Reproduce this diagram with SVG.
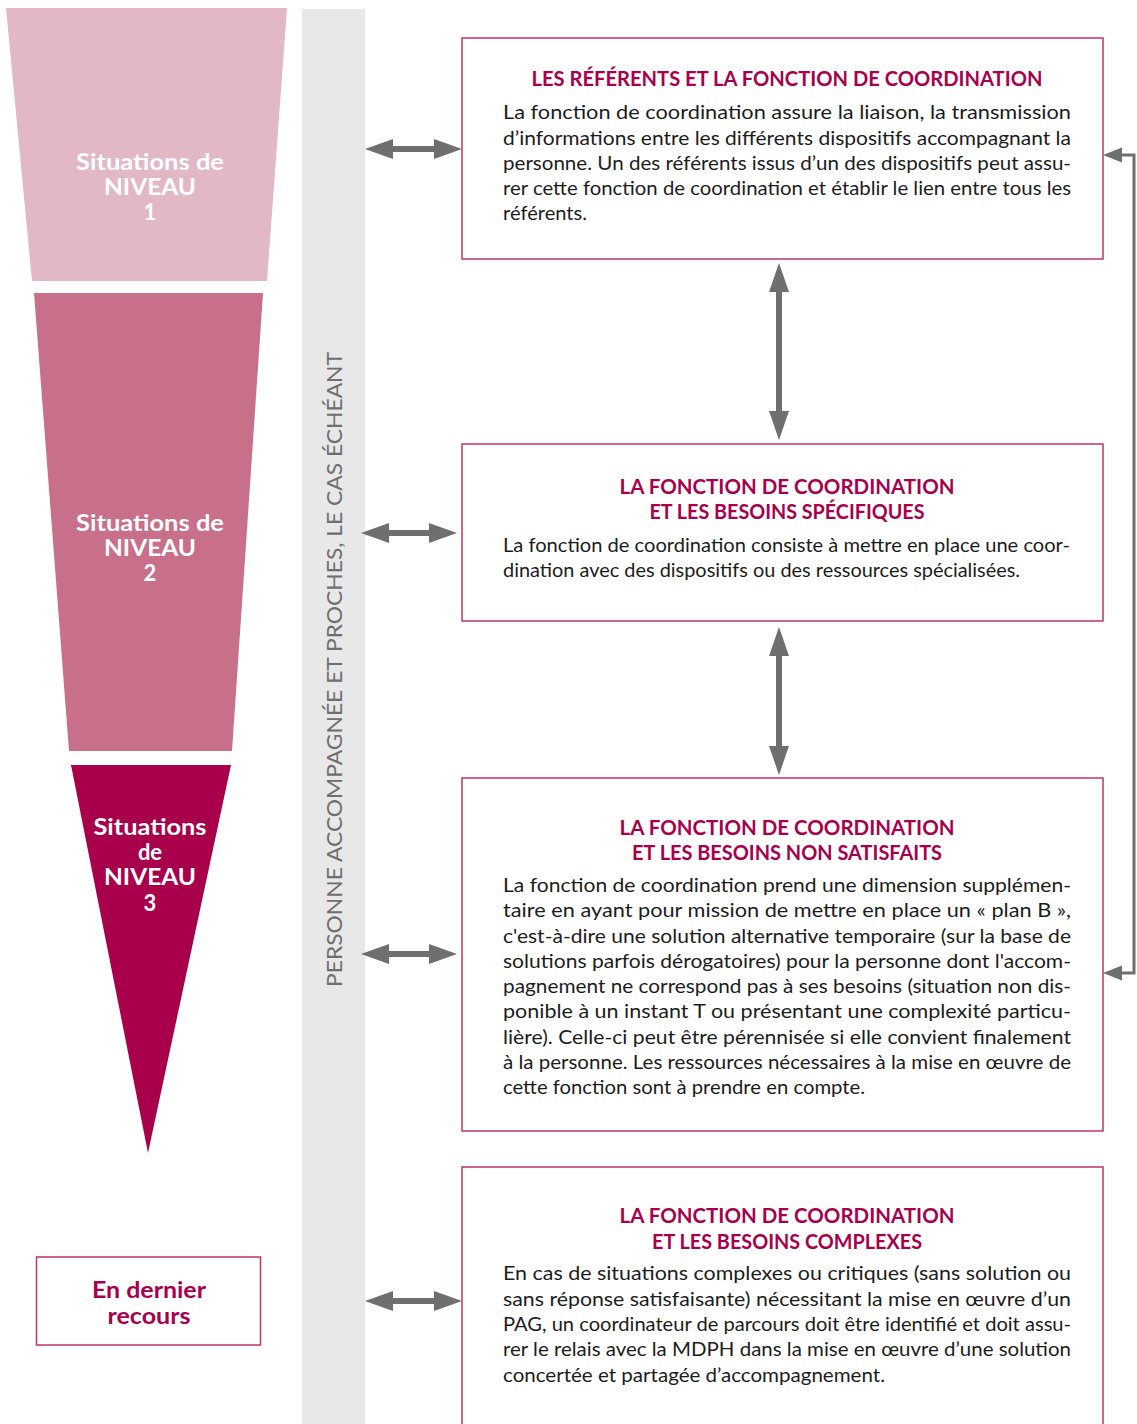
<svg xmlns="http://www.w3.org/2000/svg" width="1137" height="1424" viewBox="0 0 1137 1424">
<style>
.body{font-family:Lato,"Open Sans","Liberation Sans",sans-serif;font-size:20px;fill:#1c1c1c}
.title{font-family:Lato,"Open Sans","Liberation Sans",sans-serif;font-size:20px;font-weight:700;fill:#a8004c;text-anchor:middle}
.lvl{font-family:Lato,"Open Sans","Liberation Sans",sans-serif;font-size:22px;font-weight:700;fill:#ffffff;text-anchor:middle}
.box{fill:#ffffff;stroke:#c2306e;stroke-width:1.5}
.arr{fill:#6f6f6f}
.side{font-family:Lato,"Open Sans","Liberation Sans",sans-serif;font-size:21px;fill:#6e6e6e;text-anchor:middle}
</style>

<g id="band">
<rect x="302" y="9" width="63" height="1415" fill="#e8e8e8"/>
<text class="side" transform="translate(342,669.5) rotate(-90)" textLength="635" lengthAdjust="spacingAndGlyphs">PERSONNE ACCOMPAGNÉE ET PROCHES, LE CAS ÉCHÉANT</text>
</g>

<g id="niveau1">
<polygon points="6,8 287,8 267,281 32,281" fill="#e2b8c5"/>
<text class="lvl" x="150" y="170" textLength="148" lengthAdjust="spacingAndGlyphs">Situations de</text>
<text class="lvl" x="150" y="195" textLength="92" lengthAdjust="spacingAndGlyphs">NIVEAU</text>
<text class="lvl" x="150" y="220">1</text>
</g>

<g id="niveau2">
<polygon points="34,293 263,293 232,751 69,751" fill="#c86f8a"/>
<text class="lvl" x="150" y="531" textLength="148" lengthAdjust="spacingAndGlyphs">Situations de</text>
<text class="lvl" x="150" y="556" textLength="92" lengthAdjust="spacingAndGlyphs">NIVEAU</text>
<text class="lvl" x="150" y="581">2</text>
</g>

<g id="niveau3">
<polygon points="71,765 231,765 148,1153" fill="#a8004b"/>
<text class="lvl" x="150" y="835" textLength="113" lengthAdjust="spacingAndGlyphs">Situations</text>
<text class="lvl" x="150" y="860">de</text>
<text class="lvl" x="150" y="885" textLength="92" lengthAdjust="spacingAndGlyphs">NIVEAU</text>
<text class="lvl" x="150" y="911">3</text>
</g>

<g id="dernier-recours">
<rect class="box" x="36.5" y="1257" width="224" height="88"/>
<text class="title" x="149" y="1298" style="font-size:23px" textLength="114" lengthAdjust="spacingAndGlyphs">En dernier</text>
<text class="title" x="149" y="1324" style="font-size:23px" textLength="83" lengthAdjust="spacingAndGlyphs">recours</text>
</g>

<g id="box1">
<rect class="box" x="462" y="38" width="641" height="221"/>
<text class="title" x="787" y="86" textLength="511" lengthAdjust="spacingAndGlyphs">LES RÉFÉRENTS ET LA FONCTION DE COORDINATION</text>
<text class="body" x="503" y="119" textLength="568" lengthAdjust="spacingAndGlyphs">La fonction de coordination assure la liaison, la transmission</text>
<text class="body" x="503" y="145" textLength="568" lengthAdjust="spacingAndGlyphs">d’informations entre les différents dispositifs accompagnant la</text>
<text class="body" x="503" y="170" textLength="568" lengthAdjust="spacingAndGlyphs">personne. Un des référents issus d’un des dispositifs peut assu-</text>
<text class="body" x="503" y="195" textLength="568" lengthAdjust="spacingAndGlyphs">rer cette fonction de coordination et établir le lien entre tous les</text>
<text class="body" x="503" y="220" textLength="84" lengthAdjust="spacingAndGlyphs">référents.</text>
</g>

<g id="box2">
<rect class="box" x="462" y="444" width="641" height="177"/>
<text class="title" x="787" y="494" textLength="335" lengthAdjust="spacingAndGlyphs">LA FONCTION DE COORDINATION</text>
<text class="title" x="787" y="519" textLength="275" lengthAdjust="spacingAndGlyphs">ET LES BESOINS SPÉCIFIQUES</text>
<text class="body" x="503" y="552" textLength="567" lengthAdjust="spacingAndGlyphs">La fonction de coordination consiste à mettre en place une coor-</text>
<text class="body" x="503" y="577" textLength="517" lengthAdjust="spacingAndGlyphs">dination avec des dispositifs ou des ressources spécialisées.</text>
</g>

<g id="box3">
<rect class="box" x="462" y="778" width="641" height="353"/>
<text class="title" x="787" y="835" textLength="335" lengthAdjust="spacingAndGlyphs">LA FONCTION DE COORDINATION</text>
<text class="title" x="787" y="860" textLength="310" lengthAdjust="spacingAndGlyphs">ET LES BESOINS NON SATISFAITS</text>
<text class="body" x="503" y="892" textLength="568" lengthAdjust="spacingAndGlyphs">La fonction de coordination prend une dimension supplémen-</text>
<text class="body" x="503" y="917" textLength="568" lengthAdjust="spacingAndGlyphs">taire en ayant pour mission de mettre en place un « plan B »,</text>
<text class="body" x="503" y="943" textLength="568" lengthAdjust="spacingAndGlyphs">c'est-à-dire une solution alternative temporaire (sur la base de</text>
<text class="body" x="503" y="968" textLength="568" lengthAdjust="spacingAndGlyphs">solutions parfois dérogatoires) pour la personne dont l'accom-</text>
<text class="body" x="503" y="993" textLength="568" lengthAdjust="spacingAndGlyphs">pagnement ne correspond pas à ses besoins (situation non dis-</text>
<text class="body" x="503" y="1018" textLength="568" lengthAdjust="spacingAndGlyphs">ponible à un instant T ou présentant une complexité particu-</text>
<text class="body" x="503" y="1044" textLength="568" lengthAdjust="spacingAndGlyphs">lière). Celle-ci peut être pérennisée si elle convient finalement</text>
<text class="body" x="503" y="1069" textLength="568" lengthAdjust="spacingAndGlyphs">à la personne. Les ressources nécessaires à la mise en œuvre de</text>
<text class="body" x="503" y="1094" textLength="362" lengthAdjust="spacingAndGlyphs">cette fonction sont à prendre en compte.</text>
</g>

<g id="box4">
<rect class="box" x="462" y="1167" width="641" height="270"/>
<text class="title" x="787" y="1223" textLength="335" lengthAdjust="spacingAndGlyphs">LA FONCTION DE COORDINATION</text>
<text class="title" x="787" y="1249" textLength="270" lengthAdjust="spacingAndGlyphs">ET LES BESOINS COMPLEXES</text>
<text class="body" x="503" y="1280" textLength="568" lengthAdjust="spacingAndGlyphs">En cas de situations complexes ou critiques (sans solution ou</text>
<text class="body" x="503" y="1306" textLength="568" lengthAdjust="spacingAndGlyphs">sans réponse satisfaisante) nécessitant la mise en œuvre d’un</text>
<text class="body" x="503" y="1331" textLength="568" lengthAdjust="spacingAndGlyphs">PAG, un coordinateur de parcours doit être identifié et doit assu-</text>
<text class="body" x="503" y="1356" textLength="568" lengthAdjust="spacingAndGlyphs">rer le relais avec la MDPH dans la mise en œuvre d’une solution</text>
<text class="body" x="503" y="1382" textLength="382" lengthAdjust="spacingAndGlyphs">concertée et partagée d’accompagnement.</text>
</g>

<g id="connectors">
<polygon class="arr" points="365,149 393,139 393,146 434,146 434,139 462,149 434,159 434,152 393,152 393,159"/>
<polygon class="arr" points="361,533 389,523 389,530 429,530 429,523 457,533 429,543 429,536 389,536 389,543"/>
<polygon class="arr" points="361,954 389,944 389,951 429,951 429,944 457,954 429,964 429,957 389,957 389,964"/>
<polygon class="arr" points="365,1301 393,1291 393,1298 434,1298 434,1291 462,1301 434,1311 434,1304 393,1304 393,1311"/>
<polygon class="arr" points="779,263 789,292 782,292 782,411 789,411 779,440 769,411 776,411 776,292 769,292"/>
<polygon class="arr" points="779,627 789,656 782,656 782,746 789,746 779,775 769,746 776,746 776,656 769,656"/>
<path d="M1122,155 H1134 V973 H1122" fill="none" stroke="#6f6f6f" stroke-width="3"/>
<polygon class="arr" points="1103,155 1122,147.5 1122,162.5"/>
<polygon class="arr" points="1103,973 1122,965.5 1122,980.5"/>
</g>
</svg>
